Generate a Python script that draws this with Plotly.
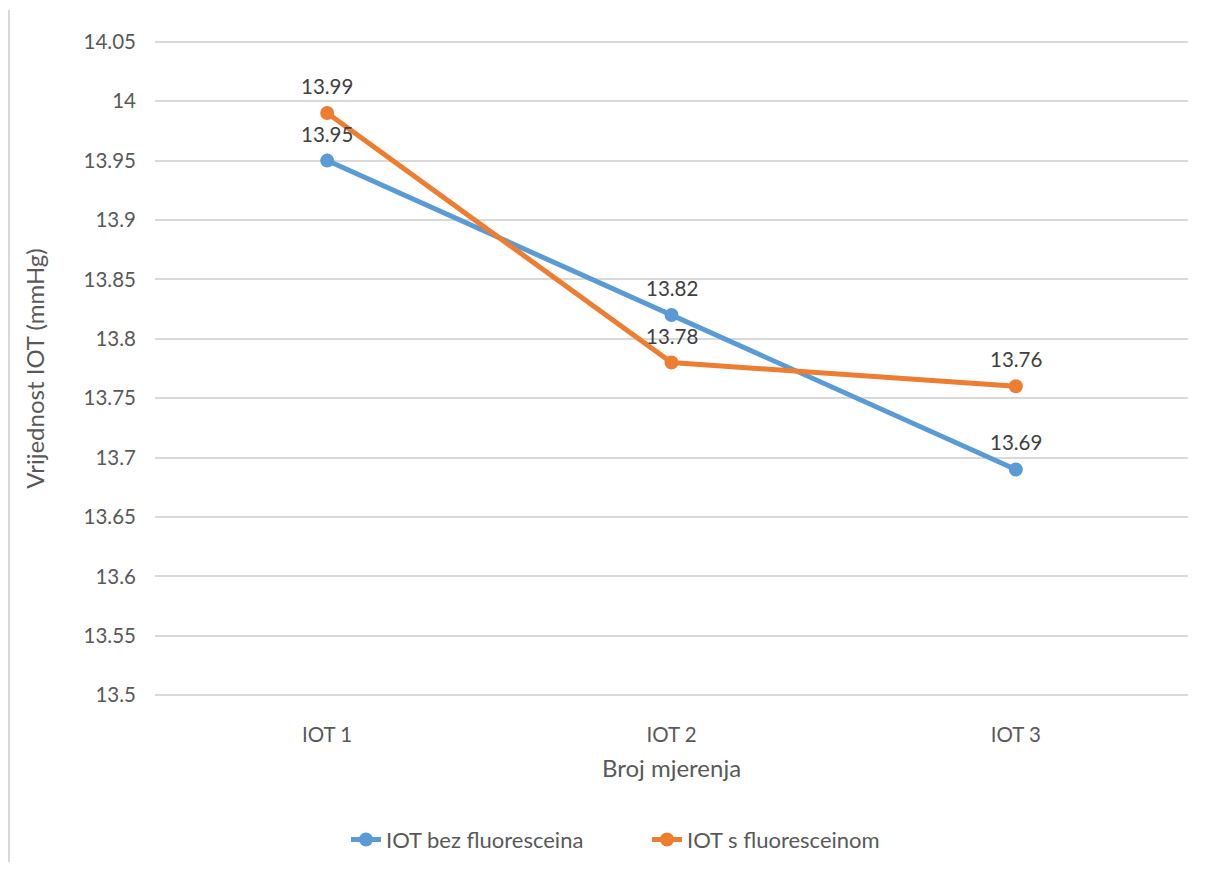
import plotly.graph_objects as go

categories = ["IOT 1", "IOT 2", "IOT 3"]
bez = [13.95, 13.82, 13.69]
s_fl = [13.99, 13.78, 13.76]
series_names = ["IOT bez fluoresceina", "IOT s fluoresceinom"]
y_ticks = [13.5, 13.55, 13.6, 13.65, 13.7, 13.75, 13.8, 13.85, 13.9, 13.95, 14, 14.05]
y_tick_labels = ["13.5", "13.55", "13.6", "13.65", "13.7", "13.75", "13.8", "13.85", "13.9", "13.95", "14", "14.05"]

txt = "#595959"
font = "Lato, 'Open Sans', sans-serif"
colors = ["#5b9bd5", "#ed7d31"]

# page body has 8px default margin -> compensate
W, H = 1196, 854
L, T = 147, 32
R, B = 16, 165
plot_w = W - L - R
plot_h = H - T - B

fig = go.Figure()
annotations = []
for name, vals, col in [(series_names[0], bez, colors[0]), (series_names[1], s_fl, colors[1])]:
    fig.add_trace(go.Scatter(
        x=categories, y=vals, name=name, mode="lines+markers",
        line=dict(color=col, width=5), marker=dict(color=col, size=14),
        cliponaxis=False,
    ))
    for c, v in zip(categories, vals):
        annotations.append(dict(x=c, y=v, text=f"{v:g}", showarrow=False, yshift=27,
                                font=dict(size=20.5, color="#404040", family=font)))

fig.update_layout(
    width=W, height=H,
    margin=dict(l=L, r=R, t=T, b=B, autoexpand=False),
    paper_bgcolor="white", plot_bgcolor="white",
    font=dict(family=font, size=20.5, color=txt),
    xaxis=dict(type="category", range=[-0.5, 2.5], showgrid=False, showline=False,
               ticks="", ticklabelstandoff=23, tickfont=dict(size=20.5, color=txt),
               title=dict(text="Broj mjerenja", font=dict(size=24, color=txt), standoff=15)),
    yaxis=dict(range=[13.4985, 14.0515], tickvals=y_ticks, ticktext=y_tick_labels,
               showgrid=True, gridcolor="#d9d9d9", gridwidth=1.5, zeroline=False,
               showline=False, ticks="", ticklabelstandoff=18,
               tickfont=dict(size=20.5, color=txt),
               title=dict(text="Vrijednost IOT (mmHg)", font=dict(size=24, color=txt), standoff=32)),
    legend=dict(orientation="h", x=(338 - 147) / plot_w, xanchor="left",
                y=-(H - T - plot_h) / plot_h + 0.002, yanchor="bottom",
                font=dict(size=22, color=txt), entrywidth=256, entrywidthmode="pixels"),
    showlegend=True,
    annotations=annotations,
    shapes=[dict(type="line", xref="paper", yref="paper", layer="above",
                 x0=(1 - L) / plot_w, x1=(1 - L) / plot_w,
                 y0=(T + plot_h - 2) / plot_h, y1=-(H - T - plot_h + 10) / plot_h,
                 line=dict(color="#d9d9d9", width=2))],
)

fig.write_html("out.html")
